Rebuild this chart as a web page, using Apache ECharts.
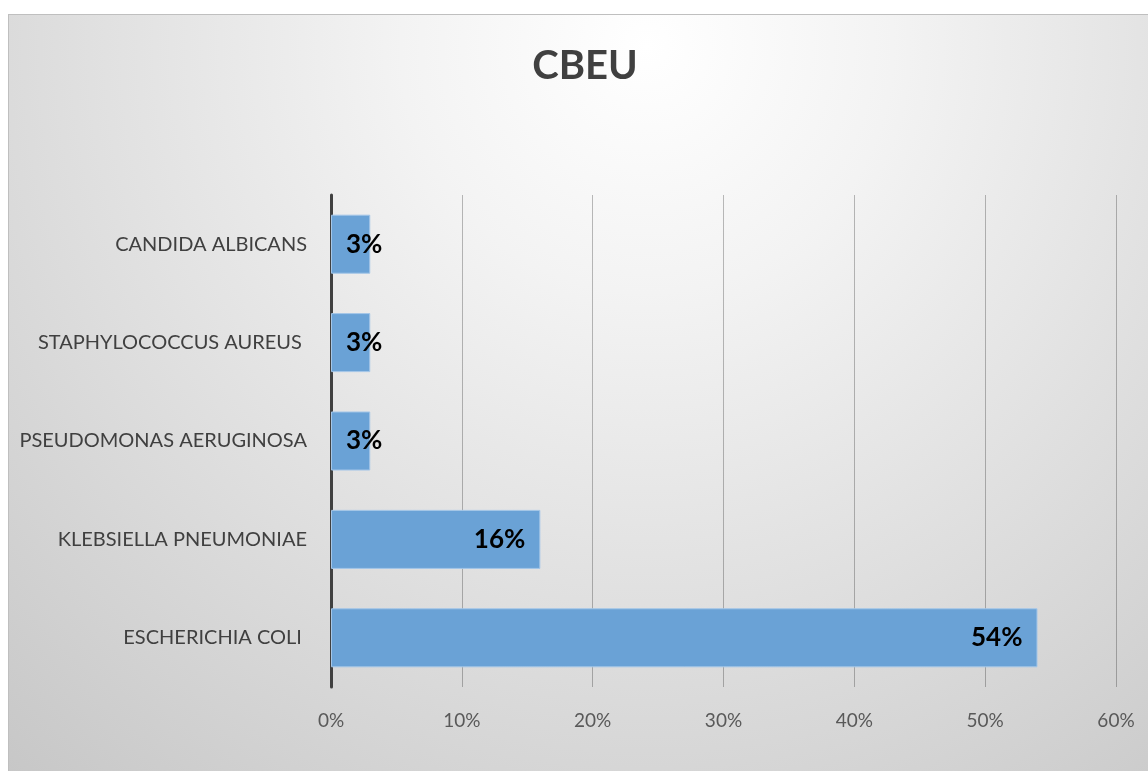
<!DOCTYPE html>
<html>
<head>
<meta charset="utf-8">
<script src="https://cdn.jsdelivr.net/npm/echarts@6/dist/echarts.min.js"></script>
<style>
  body { margin: 0; background: #fff; overflow: hidden; }
  #bg {
    position: absolute; left: 8px; top: 14px; width: 1160px; height: 780px;
    border: 1px solid #bfbfbf;
    background: radial-gradient(circle at 55% 4%, #ffffff 0%, #f3f3f3 25%, #c6c6c6 100%);
  }
  #main { position: absolute; left: 0; top: 0; width: 1148px; height: 771px; }
</style>
</head>
<body>
<div id="bg"></div>
<div id="main"></div>
<script>
// categories, bottom to top
var organisms = ["ESCHERICHIA COLI ", "KLEBSIELLA PNEUMONIAE", "PSEUDOMONAS AERUGINOSA", "STAPHYLOCOCCUS AUREUS ", "CANDIDA ALBICANS"];
var percents = [54, 16, 3, 3, 3];
var chartTitle = "CBEU";

var myChart = echarts.init(document.getElementById("main"));
var option = {
  title: {
    text: chartTitle,
    left: 580,
    textAlign: "center",
    top: 41,
    textStyle: { fontFamily: "Lato", fontSize: 40, fontWeight: "bold", color: "#404040" }
  },
  grid: { left: 331, right: 32, top: 195, bottom: 84 },
  xAxis: {
    type: "value",
    min: 0,
    max: 60,
    interval: 10,
    axisLine: { show: false },
    axisTick: { show: false },
    axisLabel: { formatter: "{value}%", margin: 24, fontFamily: "Lato", fontSize: 19, color: "#595959" },
    splitLine: { lineStyle: { color: "rgba(0,0,0,0.26)", width: 1 } }
  },
  yAxis: {
    type: "category",
    data: organisms,
    axisLine: { lineStyle: { color: "#404040", width: 3 } },
    axisTick: { show: false },
    axisLabel: { margin: 24, fontFamily: "Lato", fontSize: 20, color: "#404040" }
  },
  series: [
    {
      type: "bar",
      barCategoryGap: "40%",
      itemStyle: { color: "#6aa2d6", borderColor: "#a4c6e8", borderWidth: 1 },
      label: {
        show: true,
        formatter: "{c}%",
        fontFamily: "Lato",
        fontSize: 26,
        fontWeight: "bold",
        color: "#000"
      },
      data: percents.map(function (v) {
        return {
          value: v,
          label: v < 10 ? { position: "insideLeft", distance: 15 } : { position: "insideRight", distance: 15 }
        };
      })
    }
  ]
};
myChart.setOption(option);
</script>
</body>
</html>
